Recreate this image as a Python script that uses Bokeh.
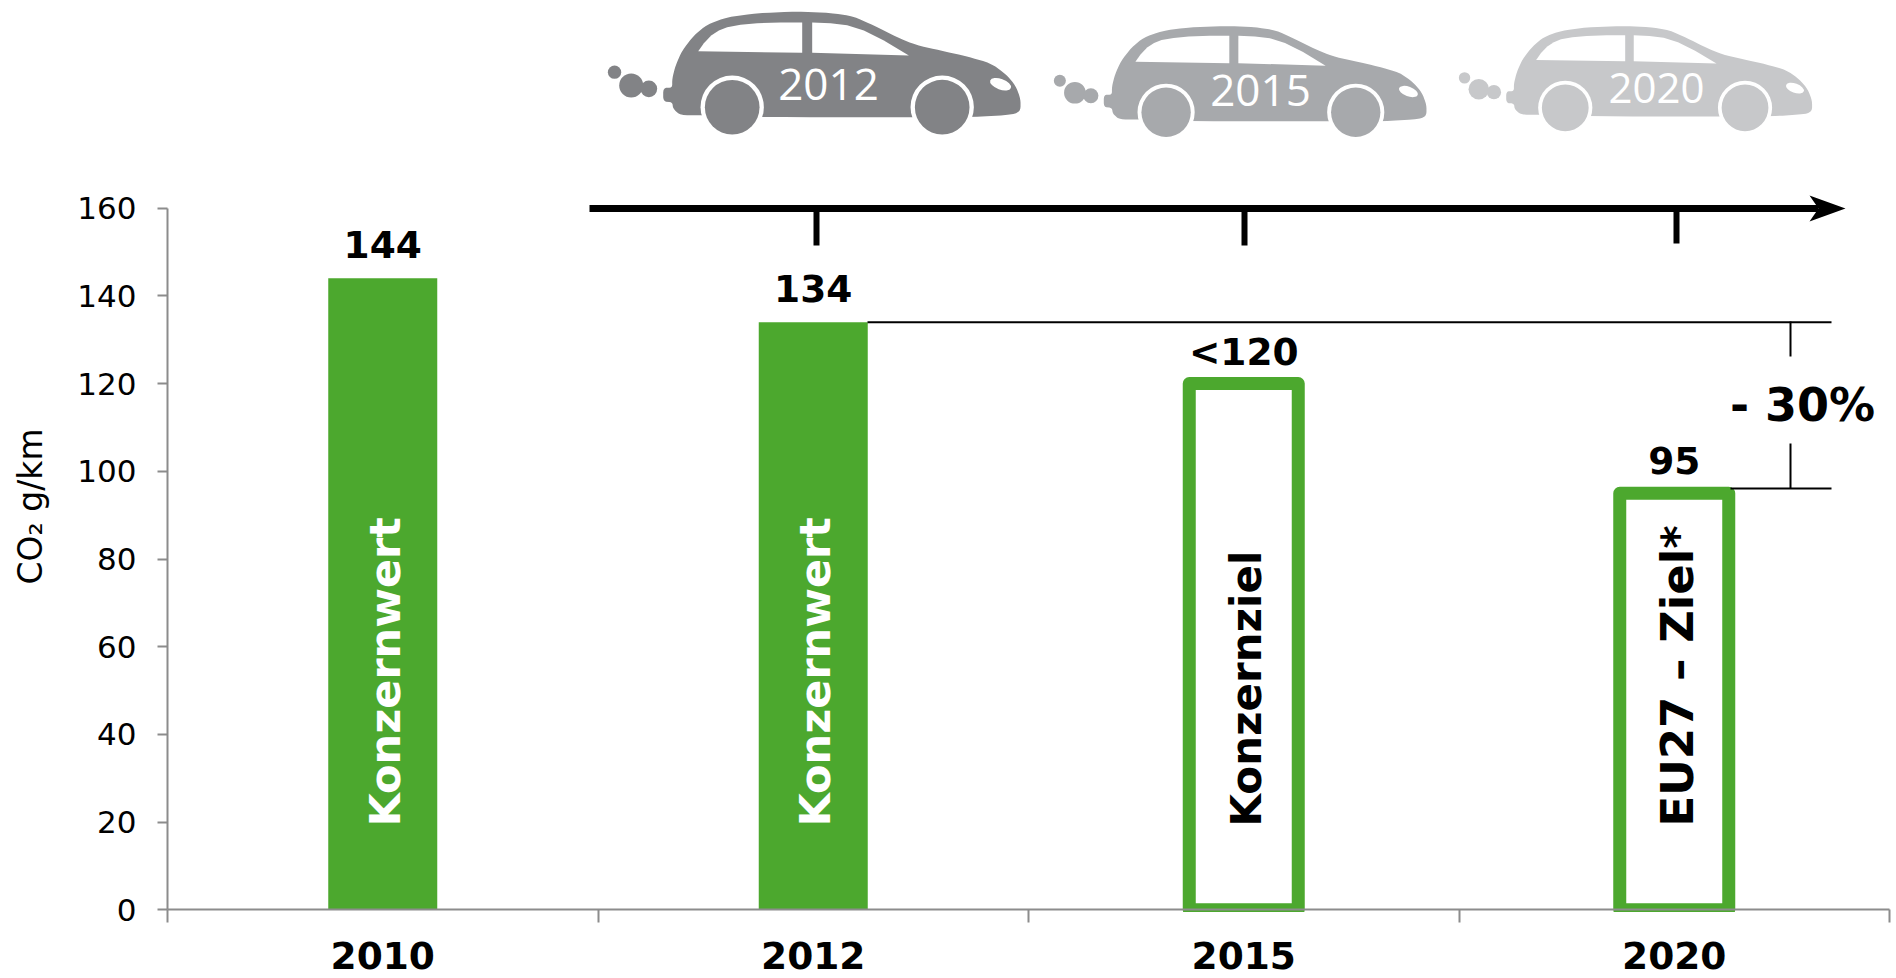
from bokeh.plotting import figure
from bokeh.models import FixedTicker, Range1d
from bokeh.embed import file_html
from bokeh.resources import INLINE
from bokeh.core.properties import value

years = ["2010", "2012", "2015", "2020"]
co2_values = [144, 134, 120, 95]
value_labels = ["144", "134", "<120", "95"]
bar_labels = ["Konzernwert", "Konzernwert", "Konzernziel", "EU27 – Ziel*"]
solid_bars = [True, True, False, False]
y_ticks = [0, 20, 40, 60, 80, 100, 120, 140, 160]
y_title = "CO₂ g/km"
drop_label = "- 30%"
car_years = ["2012", "2015", "2020"]

GREEN = "#4CA82E"
GREY = "#8C8C8C"
FONT = "DejaVu Sans"
XS, YS = 430.5, 4.385
X0, Y0 = 167.0, 909.3
W, H = 1896, 978


def xd(px):
    return (px - X0) / XS


def yd(px):
    return (Y0 - px) / YS


p = figure(width=W, height=H, output_backend="svg", toolbar_location=None,
           x_range=Range1d(xd(0), xd(W)), y_range=Range1d(yd(H), yd(0)),
           min_border=0, outline_line_color=None, background_fill_color="white",
           border_fill_color="white")
p.grid.visible = False

# axes
xa = p.xaxis[0]
xa.fixed_location = 0
xa.bounds = (0, 4)
xa.ticker = FixedTicker(ticks=[i + 0.5 for i in range(4)], minor_ticks=[0, 1, 2, 3, 4])
xa.major_label_overrides = {i + 0.5: y for i, y in enumerate(years)}
xa.major_tick_line_color = None
xa.major_tick_out = 13
xa.major_tick_in = 0
xa.minor_tick_line_color = GREY
xa.minor_tick_line_width = 2
xa.minor_tick_out = 13
xa.minor_tick_in = 0
xa.axis_line_color = GREY
xa.axis_line_width = 2
xa.major_label_standoff = 19
xa.major_label_text_font = FONT
xa.major_label_text_font_style = "bold"
xa.major_label_text_font_size = "37.5px"
xa.major_label_text_color = "black"

ya = p.yaxis[0]
ya.fixed_location = 0
ya.bounds = (0, 160)
ya.ticker = FixedTicker(ticks=y_ticks, minor_ticks=[])
ya.major_tick_line_color = GREY
ya.major_tick_line_width = 2
ya.major_tick_out = 10
ya.major_tick_in = 0
ya.axis_line_color = GREY
ya.axis_line_width = 2
ya.major_label_standoff = 21
ya.major_label_text_font = FONT
ya.major_label_text_font_size = "31px"
ya.major_label_text_color = "black"

# bars
centers = [i + 0.5 for i in range(4)]
BW = 109 / XS
for c, v, solid in zip(centers, co2_values, solid_bars):
    if solid:
        p.vbar(x=[c], top=[v], width=BW, bottom=0, fill_color=GREEN, line_color=None)
    else:
        p.vbar(x=[c], top=[v], width=BW, bottom=0, fill_color="white", line_color=GREEN,
               line_width=13, line_join="round")
        # the stroke stops just under the axis line
        p.quad(left=[c - BW], right=[c + BW], top=[yd(911.5)], bottom=[yd(920)],
               fill_color="white", line_color=None)

# value labels
offsets = [-34, -34, -32, -33]
for c, v, t, o in zip(centers, co2_values, value_labels, offsets):
    p.text(x=[c], y=[v], text=[t], y_offset=o, text_align="center", text_baseline="alphabetic",
           text_font=value(FONT), text_font_style="bold", text_font_size="37.5px", text_color="black")

# rotated labels
sizes = ["43px", "43px", "42px", "45px"]
nudge = [2, 2, 3, 3]
for c, t, solid, fs, n in zip(centers, bar_labels, solid_bars, sizes, nudge):
    p.text(x=[c], y=[yd(826)], text=[t], x_offset=n, angle=90, angle_units="deg",
           text_align="left", text_baseline="alphabetic", text_font=value(FONT),
           text_font_style="bold", text_font_size=fs,
           text_color="white" if solid else "black")

# y title
p.text(x=[xd(30)], y=[yd(584)], text=[y_title], angle=90, angle_units="deg", text_align="left",
       text_baseline="alphabetic", text_font=value(FONT), text_font_size="33px", text_color="black")

# timeline arrow
p.segment(x0=[xd(589)], y0=[yd(208)], x1=[xd(1818)], y1=[yd(208)], line_color="black", line_width=7)
p.patch(x=[xd(a) for a in (1809, 1845, 1809, 1818)], y=[yd(a) for a in (195, 208, 221, 208)],
        fill_color="black", line_color=None)
for px_, bottom in zip((816, 1244, 1676), (245, 245, 243)):
    p.segment(x0=[xd(px_)], y0=[yd(208)], x1=[xd(px_)], y1=[yd(bottom)], line_color="black", line_width=6)

# reduction bracket
p.segment(x0=[xd(867)], y0=[134], x1=[xd(1831)], y1=[134], line_color="black", line_width=2)
p.segment(x0=[xd(1730)], y0=[yd(488)], x1=[xd(1831)], y1=[yd(488)], line_color="black", line_width=2)
p.segment(x0=[xd(1790), xd(1790)], y0=[yd(321), yd(443)], x1=[xd(1790), xd(1790)], y1=[yd(356), yd(488)],
          line_color="black", line_width=2)
p.text(x=[xd(1802)], y=[yd(404.5)], text=[drop_label], text_align="center", text_baseline="alphabetic",
       text_font=value(FONT), text_font_style="bold", text_font_size="46px", text_color="black")

# cars (outline in reference-crop units, pipe left edge at 218 and roof at 35)
BODY = [(218, 262), (245, 262), (245, 235), (255, 195), (275, 150), (310, 105), (350, 72), (410, 50), (500, 38),
        (620, 33), (720, 37), (790, 48), (850, 75), (920, 110), (975, 133), (1050, 150), (1130, 168), (1200, 188),
        (1245, 220), (1275, 255), (1290, 295), (1290, 330), (1270, 342), (1148, 350), (958, 350), (520, 350),
        (332, 344), (270, 344), (248, 325), (245, 305), (218, 303)]
WIN_A = [(323, 152), (340, 128), (362, 105), (385, 90), (410, 80), (450, 73), (500, 68), (570, 66), (635, 66), (635, 157)]
WIN_B = [(665, 66), (720, 68), (770, 74), (820, 90), (880, 120), (955, 165), (665, 157)]


def chaikin(pts, n):
    for _ in range(n):
        out = []
        for i in range(len(pts)):
            a, b = pts[i], pts[(i + 1) % len(pts)]
            out.append((0.8 * a[0] + 0.2 * b[0], 0.8 * a[1] + 0.2 * b[1]))
            out.append((0.2 * a[0] + 0.8 * b[0], 0.2 * a[1] + 0.8 * b[1]))
        pts = out
    return pts


cars = [(662.7, 11.7, 1.0, "#828386", (828, 84), "44px"),
        (1103.3, 26.0, 0.903, "#A7A9AC", (1260, 90), "44px"),
        (1505.7, 26.0, 0.856, "#C7C8CA", (1656, 87), "42px")]
for label, (x0, y0, s, col, tp, fs) in zip(car_years, cars):
    fx = lambda X: xd(x0 + s * (X - 218) / 3)
    fy = lambda Y: yd(y0 + s * (Y - 35) / 3)
    poly = chaikin(BODY, 2)
    p.patch(x=[fx(a) for a, _ in poly], y=[fy(b) for _, b in poly], fill_color=col, line_color=None)
    for w in (WIN_A, WIN_B):
        p.patch(x=[fx(a) for a, _ in w], y=[fy(b) for _, b in w], fill_color="white", line_color=None)
    wx = [fx(425), fx(1055)]
    wy = [fy(320), fy(320)]
    p.scatter(x=wx, y=wy, size=2 * 95 / 3 * s, marker="circle", fill_color="white", line_color=None)
    p.scatter(x=wx, y=wy, size=2 * 82 / 3 * s, marker="circle", fill_color=col, line_color=None)
    p.scatter(x=[fx(72), fx(122), fx(175)], y=[fy(215), fy(255), fy(265)],
              size=[2 * r / 3 * s for r in (20, 36, 25)], marker="circle", fill_color=col, line_color=None)
    p.ellipse(x=[fx(1230)], y=[fy(251)], width=66 / 3 * s, height=32 / 3 * s, angle=-0.35,
              width_units="screen", height_units="screen", fill_color="white", line_color=None)
    p.text(x=[xd(tp[0])], y=[yd(tp[1])], text=[label], text_align="center", text_baseline="middle",
           text_font=value("Open Sans"), text_font_size=fs, text_color="white")

open("out.html", "w").write(file_html(p, INLINE))
